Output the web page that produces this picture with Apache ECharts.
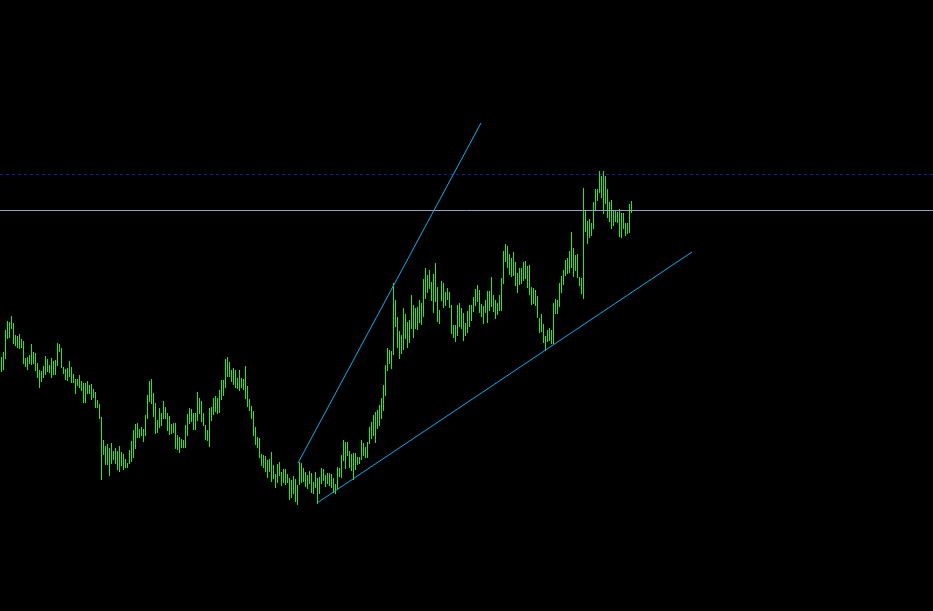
<!DOCTYPE html>
<html>
<head>
<meta charset="utf-8">
<script src="https://cdn.jsdelivr.net/npm/echarts@6/dist/echarts.min.js"></script>
<style>
html,body{margin:0;padding:0;background:#000;}
#chart{width:933px;height:611px;}
</style>
</head>
<body>
<div id="chart"></div>
<script>
// Bar highs and lows (price units), one per bar, oldest first
const highs = [254,259,281,290,289,295,288,276,275,277,272,270,253,254,256,267,259,258,248,241,
240,245,255,252,246,253,250,251,268,267,263,244,242,243,250,244,237,232,232,236,
230,228,228,230,226,227,222,219,211,207,194,171,165,167,163,168,160,163,160,165,
159,157,152,148,161,170,181,187,188,182,184,182,196,216,230,232,218,208,191,203,
198,210,204,198,195,187,188,188,176,174,172,171,186,197,203,202,198,198,219,213,
210,198,186,181,203,204,213,215,213,221,231,231,252,254,249,241,243,241,233,241,
233,232,245,225,212,205,200,184,174,173,157,156,155,151,152,159,146,137,147,149,
139,142,142,137,133,131,135,132,126,149,148,143,139,136,140,138,129,139,133,134,
143,142,136,138,138,137,133,127,144,143,156,171,169,169,160,157,158,158,154,154,
171,168,164,169,184,189,196,199,201,206,213,226,246,263,261,260,328,311,294,280,
276,303,297,289,291,316,306,303,304,311,308,332,343,336,341,329,337,348,324,301,
330,328,319,323,319,306,286,286,306,308,303,298,288,300,306,306,314,322,326,321,
307,305,311,320,320,334,316,311,308,316,333,360,367,365,357,353,359,349,338,343,
343,349,350,345,346,324,323,321,315,293,297,287,275,281,283,281,308,312,311,328,
335,341,351,353,360,379,363,356,357,334,333,423,400,390,392,388,409,422,422,440,
435,440,435,422,409,411,401,400,399,402,398,398,388,388,407,410];
const lows = [240,242,253,273,274,283,268,266,264,263,264,248,245,242,248,247,248,241,234,224,
230,234,237,240,239,234,237,237,246,260,244,238,232,231,235,229,229,218,226,224,
221,209,209,218,218,212,214,204,204,193,132,157,147,147,136,148,152,148,142,140,
146,142,144,144,148,150,154,163,174,174,176,170,176,193,210,208,195,178,179,184,
186,193,193,181,177,178,179,163,162,159,164,164,164,176,188,190,182,182,191,198,
190,186,172,171,165,191,197,200,198,199,212,216,224,235,235,230,227,224,223,221,
224,222,213,205,201,193,176,167,164,154,146,144,140,134,140,130,133,124,129,136,
126,129,127,129,112,114,118,110,107,127,129,130,125,123,128,119,118,124,108,118,
128,131,125,128,126,124,119,118,123,135,134,151,143,156,144,141,132,142,147,148,
152,156,154,154,168,173,176,169,183,186,193,201,216,241,248,243,257,285,264,253,
258,262,273,264,269,283,274,283,282,289,287,295,313,319,323,311,299,310,290,288,
311,304,306,312,304,278,274,270,276,285,283,271,276,279,285,291,300,306,310,299,
295,288,299,289,301,305,300,293,297,301,301,328,350,344,337,335,336,326,319,327,
328,331,333,324,317,307,308,306,294,279,280,269,261,270,271,268,268,298,298,305,
319,327,336,338,339,344,335,341,334,326,318,313,380,368,374,376,383,401,411,419,
414,398,408,394,390,383,386,390,389,375,374,383,376,378,379,399];

// Trend lines: [bar index, price] anchors
const trendUp = [[148.5, 148], [240, 488]];
const trendSupport = [[158, 108], [345.5, 359]];
// Horizontal levels
const levelSolid = 400.5;
const levelDashed = 436.5;

const barData = highs.map((h, i) => [i, h, lows[i]]);

const chart = echarts.init(document.getElementById('chart'));
chart.setOption({
  backgroundColor: '#000000',
  animation: false,
  grid: {left: 0, right: 0, top: 0, bottom: 0},
  xAxis: {type: 'value', min: -0.5, max: 466, show: false, splitLine: {show: false}},
  yAxis: {type: 'value', min: 0, max: 611, show: false, splitLine: {show: false}},
  series: [
    {
      type: 'line', silent: true, symbol: 'none',
      data: [[-0.5, levelDashed], [466, levelDashed]],
      lineStyle: {color: '#1c1c96', width: 1, type: [3, 3]}
    },
    {
      type: 'line', silent: true, symbol: 'none',
      data: [[-0.5, levelSolid], [466, levelSolid]],
      lineStyle: {color: '#94a3bb', width: 1}
    },
    {
      type: 'custom', silent: true,
      data: barData,
      encode: {x: 0, y: [1, 2]},
      renderItem: function (params, api) {
        const top = api.coord([api.value(0), api.value(1)]);
        const bot = api.coord([api.value(0), api.value(2)]);
        const x = Math.round(top[0]);
        const y = Math.round(top[1]);
        return {
          type: 'rect',
          shape: {x: x, y: y, width: 1, height: Math.max(1, Math.round(bot[1]) - y + 1)},
          style: {fill: '#2ae61e'}
        };
      }
    },
    {
      type: 'line', silent: true, symbol: 'none',
      data: trendUp,
      lineStyle: {color: '#12a9f0', width: 1}
    },
    {
      type: 'line', silent: true, symbol: 'none',
      data: trendSupport,
      lineStyle: {color: '#12a9f0', width: 1}
    }
  ]
});
</script>
</body>
</html>
